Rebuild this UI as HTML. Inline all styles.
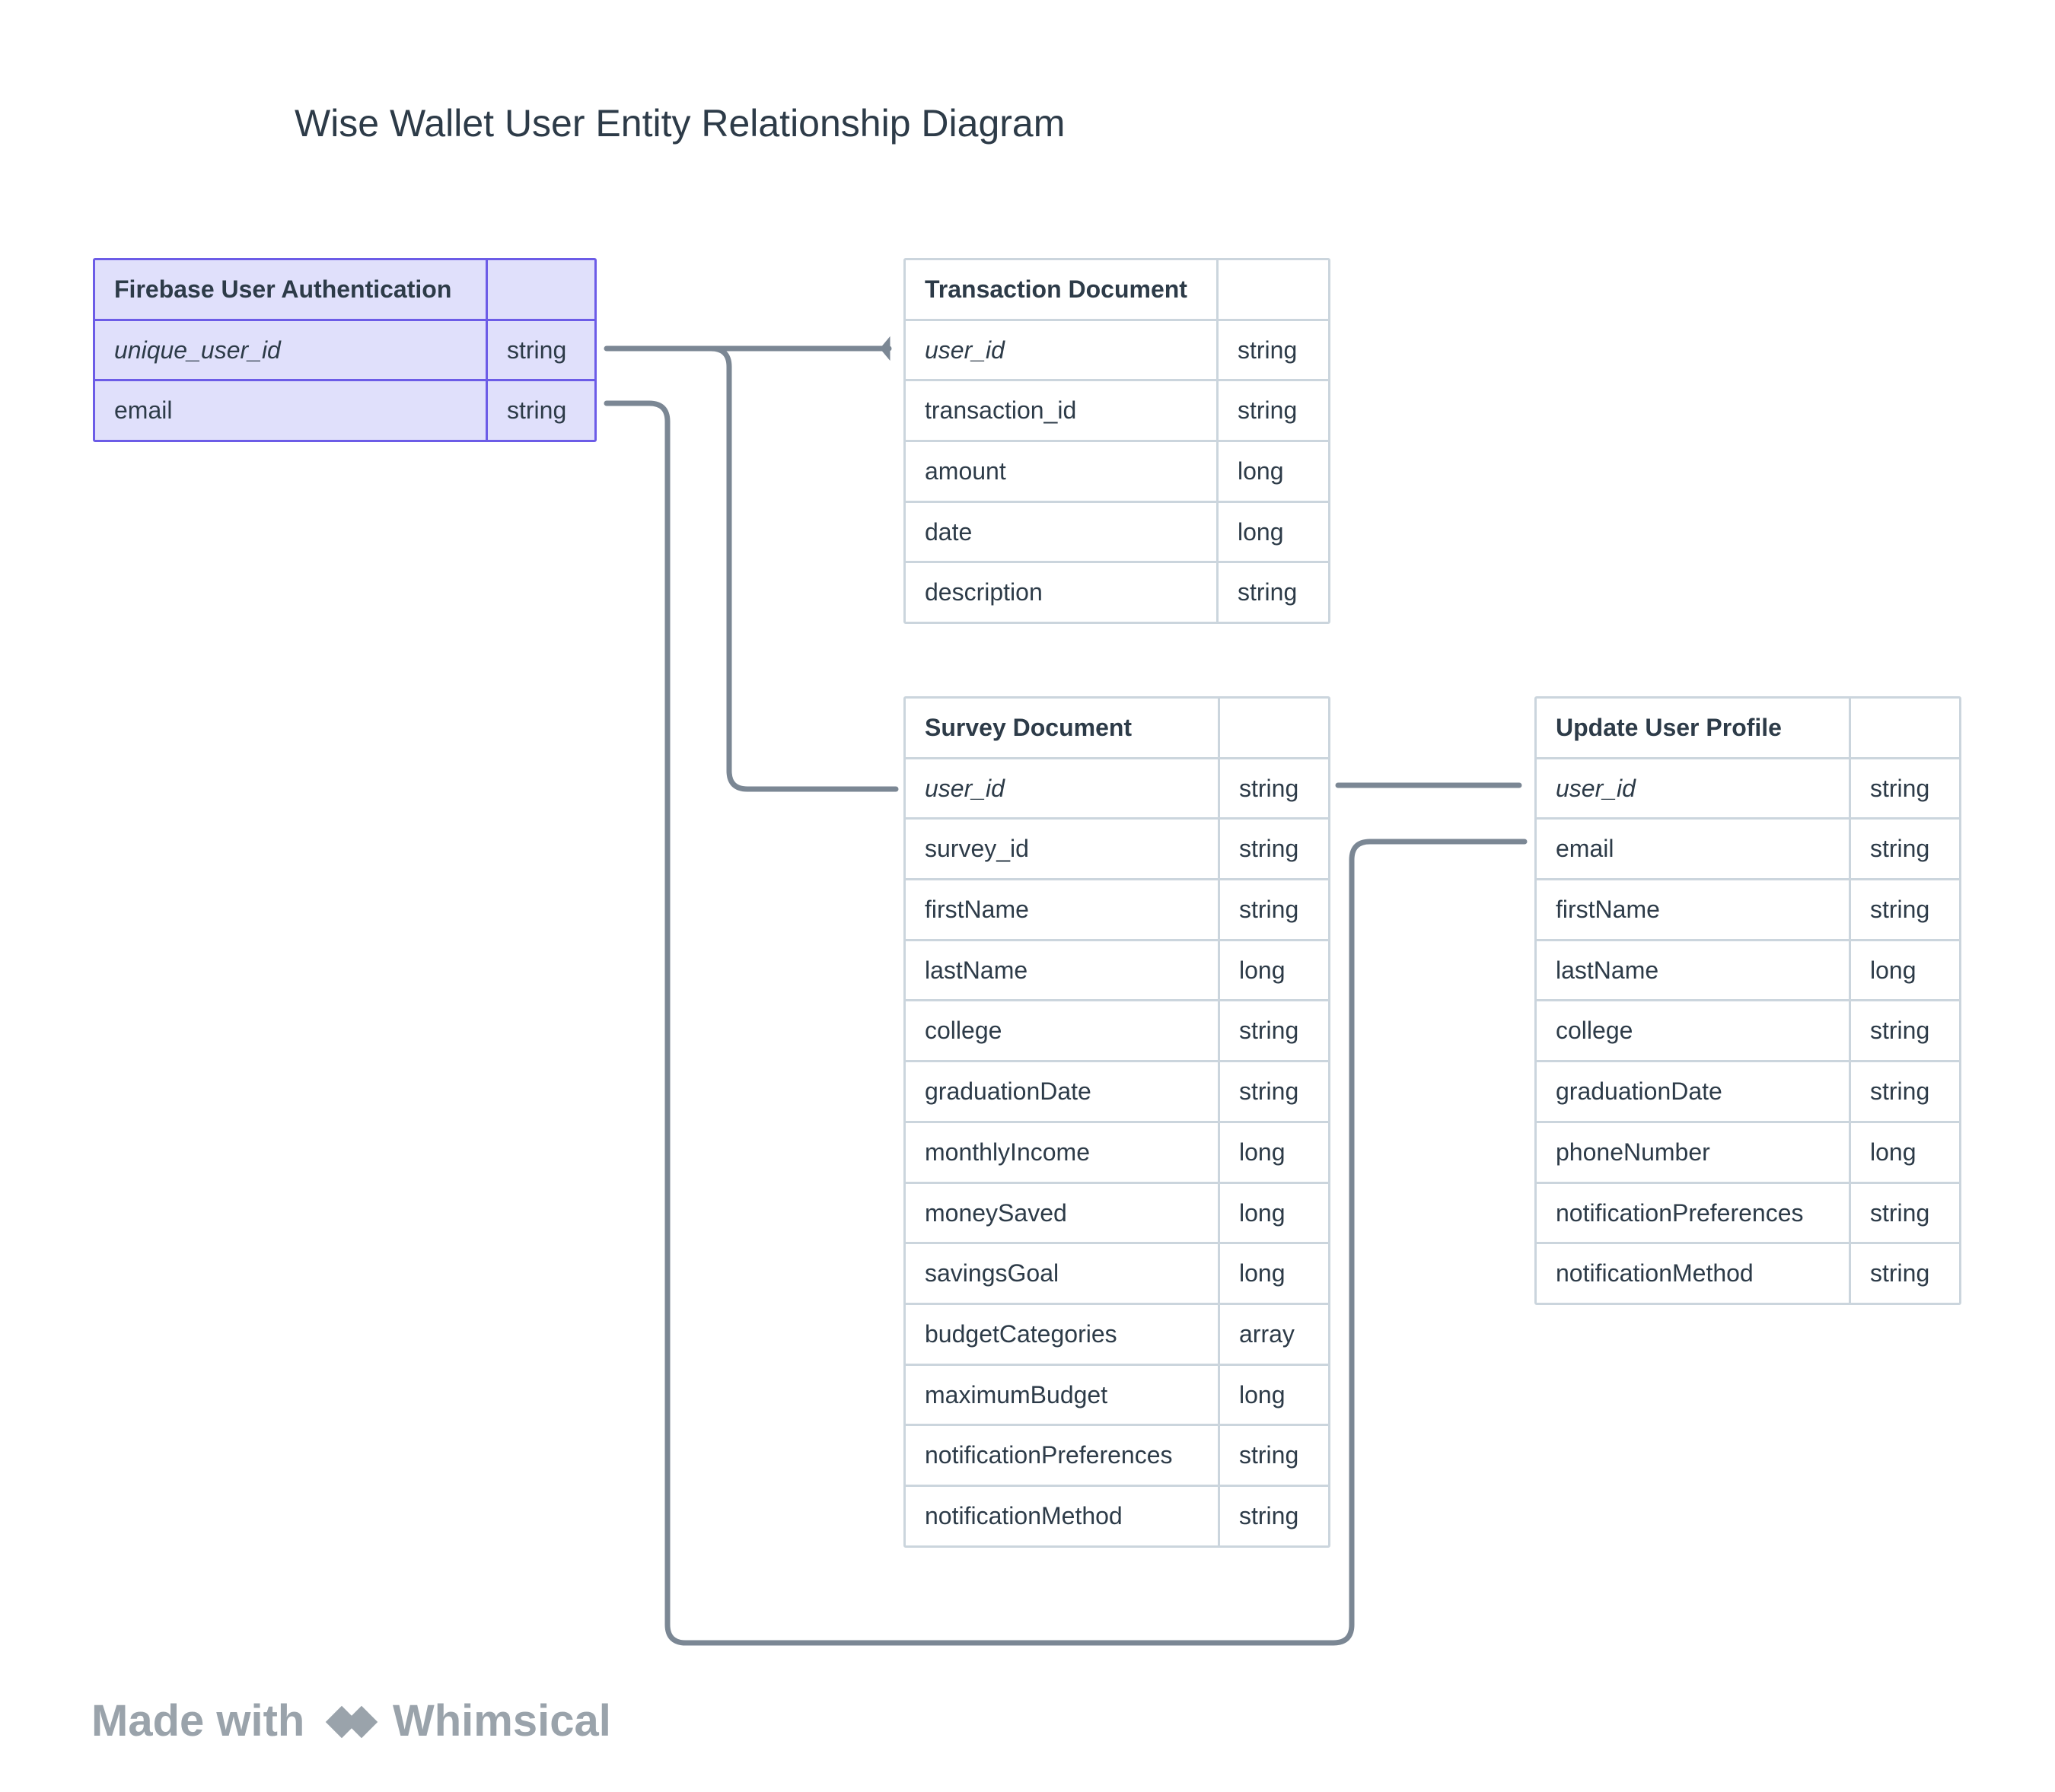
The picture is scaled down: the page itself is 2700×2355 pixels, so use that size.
<!DOCTYPE html>
<html><head><meta charset="utf-8"><style>
body{margin:0;width:2700px;height:2355px;background:#fff;position:relative;overflow:hidden;font-family:"Liberation Sans",sans-serif;color:#2d3b48}
.t{position:absolute;display:grid;border:3px solid #cbd5dd;border-radius:3px;background:#fff}
.t>div{height:76.7px;line-height:76px;border-right:3px solid #cbd5dd;border-bottom:3px solid #cbd5dd;padding-left:25px;font-size:32px;white-space:nowrap;overflow:hidden}
.t>div:nth-child(2n){border-right:none}
.t>div.l{border-bottom:none}
.t>div.h{font-weight:bold}
.t>div i{font-style:italic}
.p{border-color:#6c5ce7;background:#e0e0fb}
.p>div{border-color:#6c5ce7!important}
</style></head><body>
<div style="position:absolute;left:387px;top:133px;font-size:50px;color:#2d3b48">Wise Wallet User Entity Relationship Diagram</div>

<svg width="2700" height="2355" style="position:absolute;left:0;top:0" fill="none" stroke="#7b8794" stroke-width="7" stroke-linecap="round">
<path d="M797 458 H1168"/>
<path d="M934 458 Q958 458 958 482 V1013 Q958 1037 982 1037 H1177"/>
<path d="M1168 446 L1168 470 L1158 458 Z" fill="#7b8794" stroke-width="3"/>
<path d="M797 530 H853 Q877 530 877 554 V2135 Q877 2159 901 2159 H1752 Q1776 2159 1776 2135 V1130 Q1776 1106 1800 1106 H2003"/>
<path d="M1758 1032 H1996"/>
</svg>

<div class="t p" style="left:122px;top:339px;grid-template-columns:516px 140px">
<div class="h">Firebase User Authentication</div><div></div>
<div><i>unique_user_id</i></div><div>string</div>
<div class="l">email</div><div class="l">string</div>
</div>

<div class="t" style="left:1187px;top:339px;grid-template-columns:411px 144px">
<div class="h">Transaction Document</div><div></div>
<div><i>user_id</i></div><div>string</div>
<div>transaction_id</div><div>string</div>
<div>amount</div><div>long</div>
<div>date</div><div>long</div>
<div class="l">description</div><div class="l">string</div>
</div>

<div class="t" style="left:1187px;top:915px;grid-template-columns:413px 142px">
<div class="h">Survey Document</div><div></div>
<div><i>user_id</i></div><div>string</div>
<div>survey_id</div><div>string</div>
<div>firstName</div><div>string</div>
<div>lastName</div><div>long</div>
<div>college</div><div>string</div>
<div>graduationDate</div><div>string</div>
<div>monthlyIncome</div><div>long</div>
<div>moneySaved</div><div>long</div>
<div>savingsGoal</div><div>long</div>
<div>budgetCategories</div><div>array</div>
<div>maximumBudget</div><div>long</div>
<div>notificationPreferences</div><div>string</div>
<div class="l">notificationMethod</div><div class="l">string</div>
</div>

<div class="t" style="left:2016px;top:915px;grid-template-columns:413px 142px">
<div class="h">Update User Profile</div><div></div>
<div><i>user_id</i></div><div>string</div>
<div>email</div><div>string</div>
<div>firstName</div><div>string</div>
<div>lastName</div><div>long</div>
<div>college</div><div>string</div>
<div>graduationDate</div><div>string</div>
<div>phoneNumber</div><div>long</div>
<div>notificationPreferences</div><div>string</div>
<div class="l">notificationMethod</div><div class="l">string</div>
</div>

<div style="position:absolute;left:120px;top:2228px;font-size:58px;font-weight:bold;color:#9aa3ab">Made with</div>
<svg width="90" height="70" style="position:absolute;left:420px;top:2228px">
<rect x="14" y="14" width="30" height="30" fill="#9aa3ab" transform="rotate(45 29 35) translate(0 6)"/>
<rect x="40" y="14" width="30" height="30" fill="#9aa3ab" transform="rotate(45 55 35) translate(0 6)"/>
</svg>
<div style="position:absolute;left:516px;top:2228px;font-size:58px;font-weight:bold;color:#9aa3ab">Whimsical</div>
</body></html>
